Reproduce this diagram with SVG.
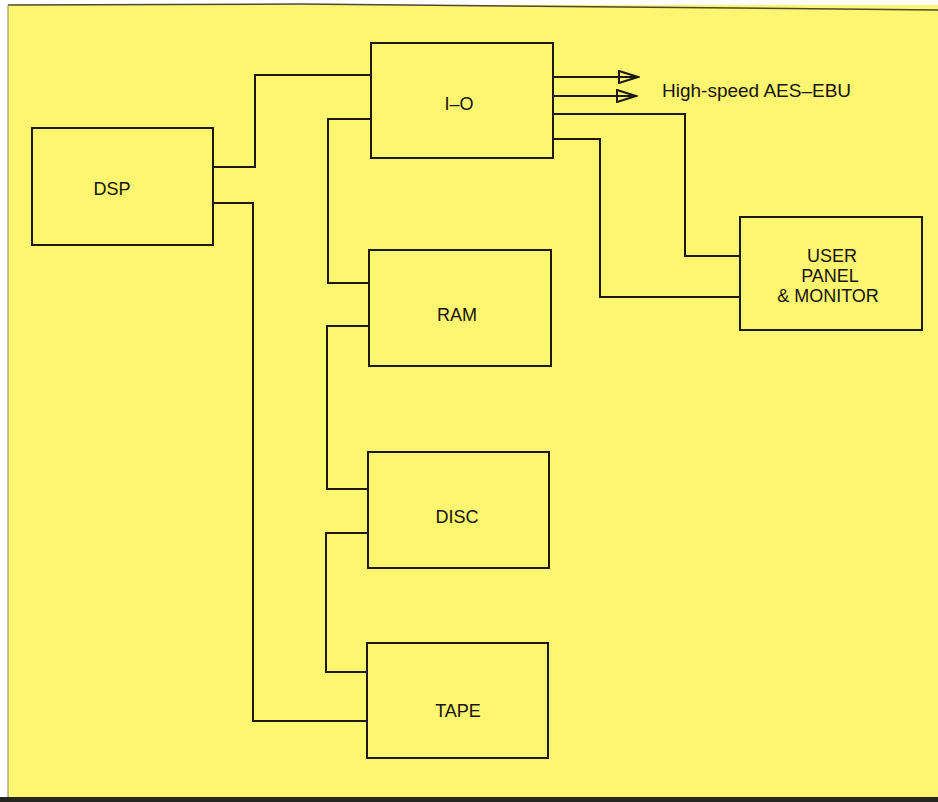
<svg xmlns="http://www.w3.org/2000/svg" width="938" height="802" viewBox="0 0 938 802">
<defs>
<style>
.box{fill:none;stroke:#1c1a12;stroke-width:2}
.wire{fill:none;stroke:#1c1a12;stroke-width:2}
.lbl{font-family:"Liberation Sans",Arial,sans-serif;font-size:18px;fill:#141410;text-anchor:middle}
.note{font-family:"Liberation Sans",Arial,sans-serif;font-size:19px;fill:#141410}
</style>
<marker id="openArrow" markerWidth="22" markerHeight="14" refX="20" refY="7" orient="auto" markerUnits="userSpaceOnUse">
<path d="M1,1 L20,7 L1,13 Z" fill="#fef571" stroke="#1c1a12" stroke-width="2" stroke-linejoin="miter"/>
<path d="M0,7 L19,7" stroke="#1c1a12" stroke-width="2"/>
</marker>
</defs>
<rect x="0" y="0" width="938" height="802" fill="#ffffff"/>
<rect x="8" y="5" width="930" height="792" fill="#fef571"/>
<path d="M8,5 L300,4 L938,10" fill="none" stroke="#4a4a30" stroke-width="1.5"/>
<path d="M8,5 L8,797" fill="none" stroke="#8a8660" stroke-width="1"/>
<rect x="0" y="797" width="938" height="5" fill="#262620"/>

<g id="connectors">
<path class="wire" d="M213,167 H255 V75 H371"/>
<path class="wire" d="M213,203 H253 V721 H368"/>
<path class="wire" d="M371,119 H328 V283 H369"/>
<path class="wire" d="M369,326 H327 V489 H368"/>
<path class="wire" d="M368,533 H326 V672 H367"/>
<path class="wire" d="M553,114 H685 V256 H740"/>
<path class="wire" d="M553,139 H600 V297 H740"/>
<path class="wire" d="M553,77 H638" marker-end="url(#openArrow)"/>
<path class="wire" d="M553,96 H636" marker-end="url(#openArrow)"/>
</g>

<g id="dsp">
<rect class="box" x="32" y="128" width="181" height="117"/>
<text class="lbl" x="112" y="195">DSP</text>
</g>
<g id="io">
<rect class="box" x="371" y="43" width="182" height="115"/>
<text class="lbl" x="459" y="110">I–O</text>
</g>
<g id="ram">
<rect class="box" x="369" y="250" width="182" height="116"/>
<text class="lbl" x="457" y="321">RAM</text>
</g>
<g id="disc">
<rect class="box" x="368" y="452" width="181" height="116"/>
<text class="lbl" x="457" y="523">DISC</text>
</g>
<g id="tape">
<rect class="box" x="367" y="643" width="181" height="115"/>
<text class="lbl" x="458" y="717">TAPE</text>
</g>
<g id="user">
<rect class="box" x="740" y="217" width="182" height="113"/>
<text class="lbl" x="832" y="262">USER</text>
<text class="lbl" x="830" y="282">PANEL</text>
<text class="lbl" x="828" y="302">&amp; MONITOR</text>
</g>
<g id="aes-label">
<text class="note" x="662" y="97">High-speed AES–EBU</text>
</g>
</svg>
